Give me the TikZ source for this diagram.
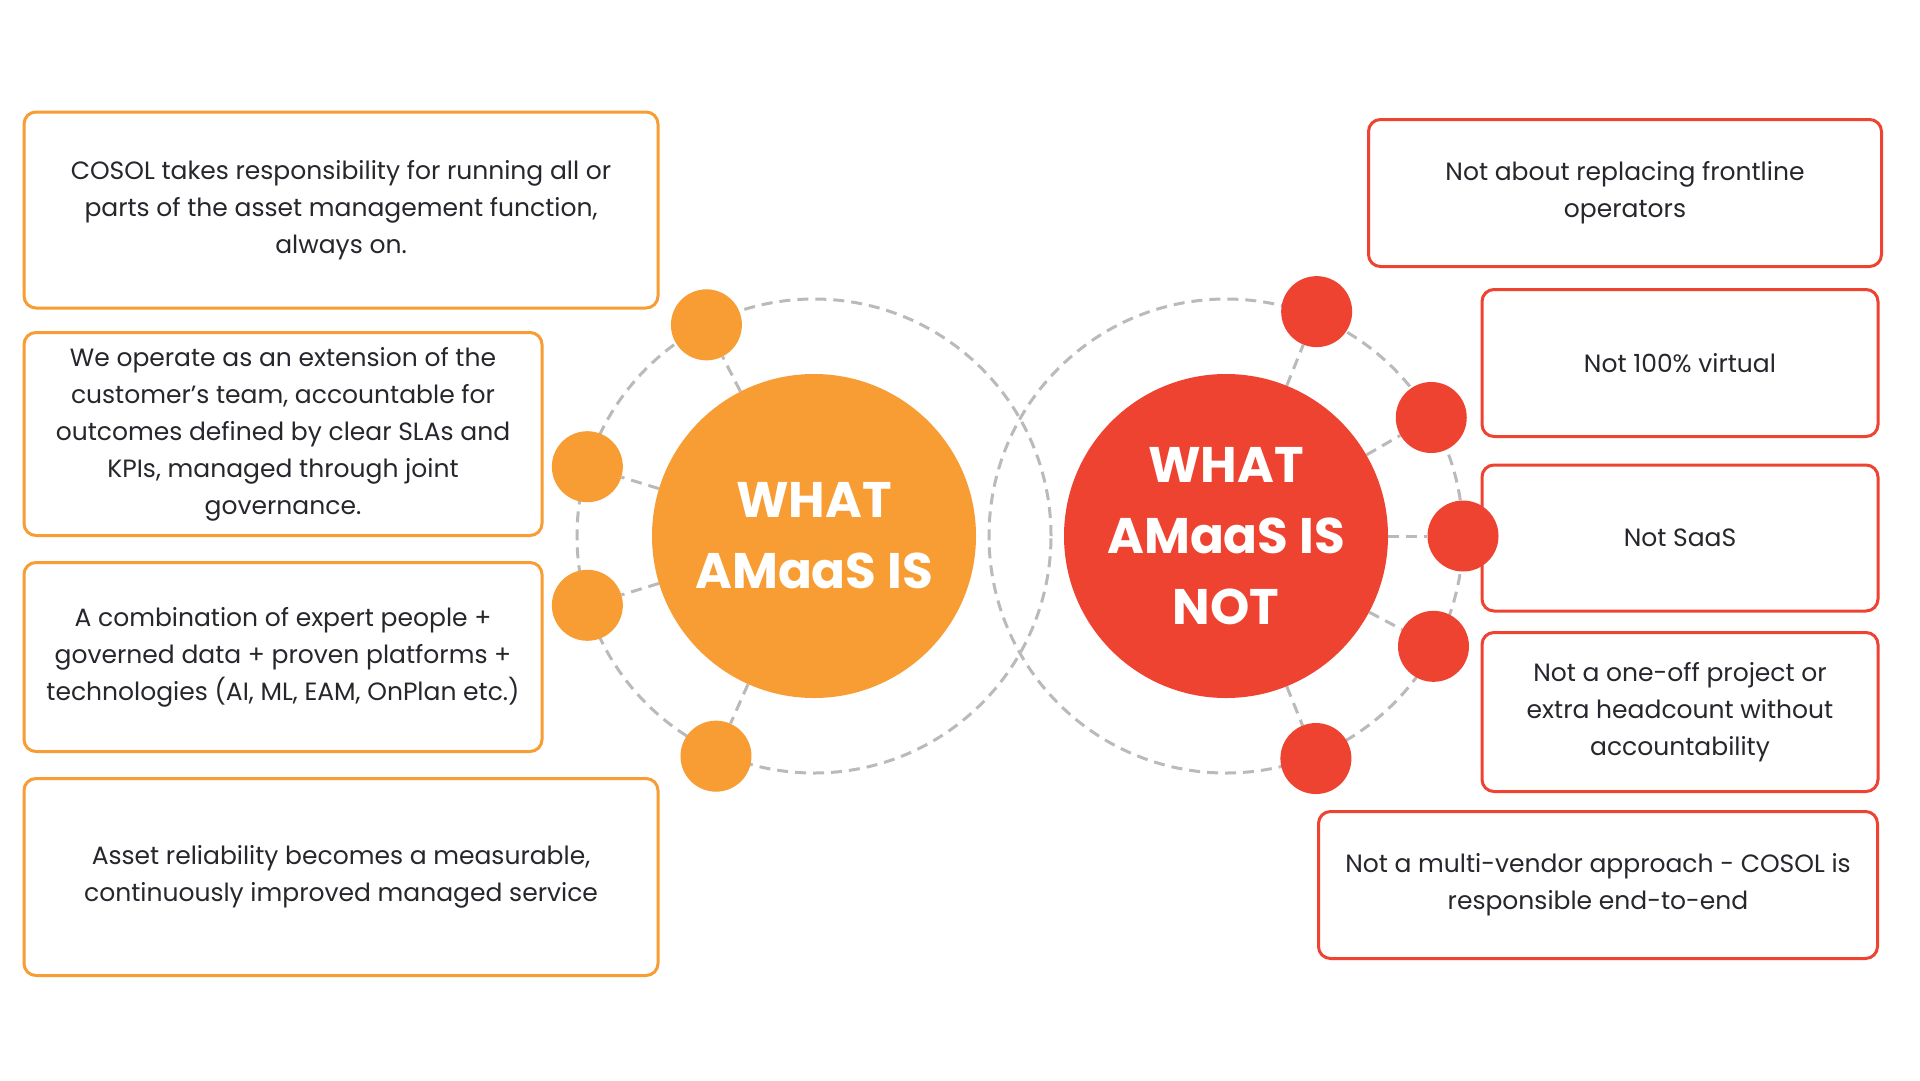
\documentclass[tikz,border=0pt]{standalone}
\usepackage{fontspec}
\setmainfont{Poppins}
\definecolor{AmOrange}{RGB}{247,157,52}
\definecolor{AmRed}{RGB}{239,67,50}
\definecolor{RingGrey}{RGB}{186,186,186}
\definecolor{BodyText}{RGB}{38,38,44}
\usetikzlibrary{
    positioning,
    calc,
    backgrounds,
}

\tikzset{
    infobox/.style={rectangle, rounded corners=12pt, line width=3pt, fill=white, align=center, text=BodyText, inner sep=0pt, font=\fontsize{25}{37}\selectfont},
    isbox/.style={infobox, draw=AmOrange},
    notbox/.style={infobox, draw=AmRed},
    hub/.style={circle, minimum size=324pt, inner sep=0pt, text=white, align=center, font=\bfseries\fontsize{50}{71}\selectfont},
    satellite/.style={circle, minimum size=71pt, inner sep=0pt},
    ring/.style={draw=RingGrey, line width=3pt, dash pattern=on 11pt off 7pt},
}

\begin{document}
\begin{tikzpicture}[x=1pt, y=-1pt]
    \useasboundingbox (0,0) rectangle (1920,1080);

    % what it is
    \node[isbox, minimum width=634pt, minimum height=196pt] (is-run) at (341,210) {
        COSOL takes responsibility for running all or\\
        parts of the asset management function,\\
        always on.
    };
    \node[isbox, minimum width=518pt, minimum height=203pt] (is-team) at (283,434) {
        We operate as an extension of the\\
        customer’s team, accountable for\\
        outcomes defined by clear SLAs and\\
        KPIs, managed through joint\\
        governance.
    };
    \node[isbox, minimum width=518pt, minimum height=189pt] (is-mix) at (283,657) {
        A combination of expert people +\\
        governed data + proven platforms +\\
        technologies (AI, ML, EAM, OnPlan etc.)
    };
    \node[isbox, minimum width=634pt, minimum height=197pt] (is-service) at (341,877) {
        Asset reliability becomes a measurable,\\
        continuously improved managed service
    };

    % what it is not
    \node[notbox, minimum width=513pt, minimum height=147pt] (not-operators) at (1625,193) {
        Not about replacing frontline\\
        operators
    };
    \node[notbox, minimum width=396pt, minimum height=147pt] (not-virtual) at (1680,363) {Not 100\% virtual};
    \node[notbox, minimum width=396pt, minimum height=146pt] (not-saas) at (1680,538) {Not SaaS};
    \node[notbox, minimum width=396pt, minimum height=159pt] (not-project) at (1680,712) {
        Not a one-off project or\\
        extra headcount without\\
        accountability
    };
    \node[notbox, minimum width=559pt, minimum height=147pt] (not-vendor) at (1598,885) {
        Not a multi-vendor approach - COSOL is\\
        responsible end-to-end
    };

    % hubs and satellites
    \node[hub, fill=AmOrange] (is) at (814,536) {WHAT\\AMaaS IS};
    \node[hub, fill=AmRed] (isnot) at (1226,536) {WHAT\\AMaaS IS\\NOT};

    \foreach \ang/\rad [count=\i] in {117/237,163/237,197/237,246/241}
        \node[satellite, fill=AmOrange] (is\i) at ([shift={(\ang:\rad pt)}]is.center) {};
    \foreach \ang/\rad [count=\i] in {68/242,30/237,0/237,-28/235,-68/240}
        \node[satellite, fill=AmRed] (not\i) at ([shift={(\ang:\rad pt)}]isnot.center) {};

    \begin{scope}[on background layer]
        \fill[white] (0,0) rectangle (1920,1080);
        \draw[ring] (is.center) circle (237pt);
        \draw[ring] (isnot.center) circle (237pt);
        \foreach \i in {1,...,4}
            \draw[ring] (is) -- (is\i);
        \foreach \i in {1,...,5}
            \draw[ring] (isnot) -- (not\i);
    \end{scope}
\end{tikzpicture}
\end{document}
